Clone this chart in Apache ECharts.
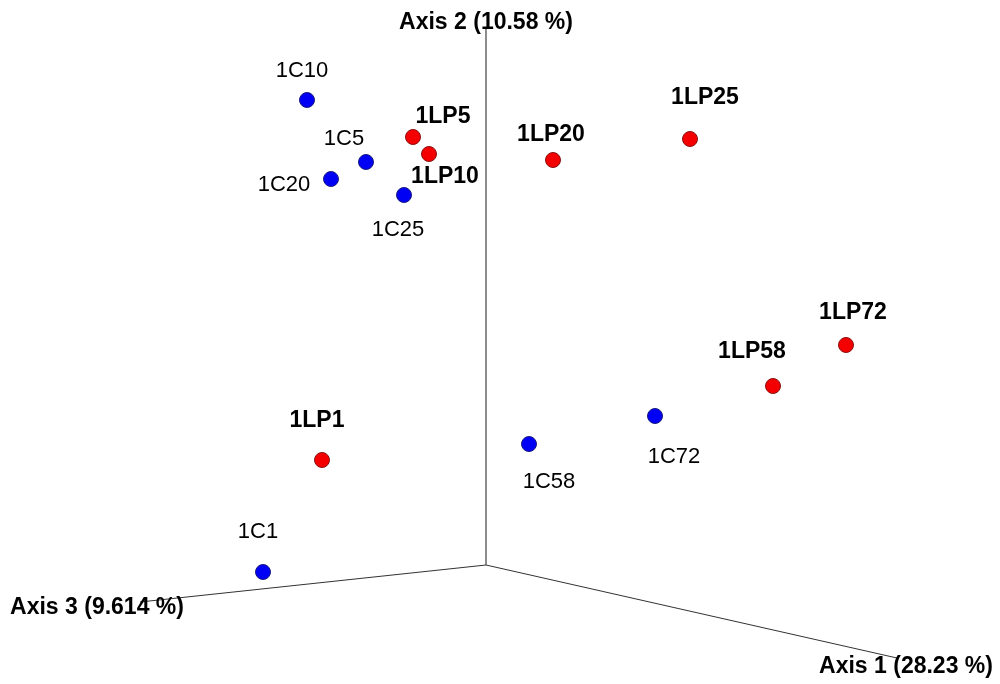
<!DOCTYPE html>
<html>
<head>
<meta charset="utf-8">
<script src="https://cdn.jsdelivr.net/npm/echarts@6/dist/echarts.min.js"></script>
<style>html,body{margin:0;padding:0;background:#fff}#c{width:1000px;height:684px}</style>
</head>
<body>
<div id="c"></div>
<script>
// Projected ordination coordinates (screen-plane units of the 3D view)
const controlNames = ['1C1', '1C5', '1C10', '1C20', '1C25', '1C58', '1C72'];
const controlX = [263, 366, 307, 331, 404, 529, 655];
const controlY = [572, 162, 100, 179, 195, 444, 416];

const lpNames = ['1LP1', '1LP5', '1LP10', '1LP20', '1LP25', '1LP58', '1LP72'];
const lpX = [322, 413, 429, 553, 690, 773, 846];
const lpY = [460, 137, 154, 160, 139, 386, 345];

// Projected 3D axes: origin and end of each axis
const axisNames = ['Axis 1 (28.23 %)', 'Axis 2 (10.58 %)', 'Axis 3 (9.614 %)'];
const axisOrigin = [486, 565];
const axisEndX = [897, 486, 140];
const axisEndY = [658, 27, 602];

// label placement (style)
const labelOffsets = {
  '1C1': [-5, -40], '1C5': [-22, -23], '1C10': [-5, -29], '1C20': [-47, 6],
  '1C25': [-6, 35], '1C58': [20, 38], '1C72': [19, 41],
  '1LP1': [-5, -39], '1LP5': [30, -20], '1LP10': [16, 23], '1LP20': [-2, -25],
  '1LP25': [15, -41], '1LP58': [-21, -34], '1LP72': [7, -32]
};
const axisLabelOffsets = [[9, 9], [0, -4], [-43, 6]];

const FONT = 'Liberation Sans, Arial, Helvetica, sans-serif';

function pointData(names, xs, ys) {
  return names.map((n, i) => ({
    name: n,
    value: [xs[i], ys[i]],
    label: { offset: labelOffsets[n] }
  }));
}

const axisSeries = axisNames.map((n, i) => ({
  type: 'line',
  name: n,
  z: 1,
  symbol: 'none',
  silent: true,
  animation: false,
  lineStyle: { color: i === 1 ? '#666' : '#333', width: i === 1 ? 1.5 : 1 },
  data: [axisOrigin.slice(), [axisEndX[i], axisEndY[i]]]
}));

const axisTitleSeries = {
  type: 'scatter',
  name: 'axisTitles',
  z: 2,
  symbolSize: 0,
  silent: true,
  animation: false,
  itemStyle: { opacity: 1 },
  label: {
    show: true,
    position: 'inside',
    formatter: p => p.name,
    color: '#000',
    fontFamily: FONT,
    fontWeight: 'bold',
    fontSize: 23,
    align: 'center',
    verticalAlign: 'middle'
  },
  data: axisNames.map((n, i) => ({
    name: n,
    value: [axisEndX[i], axisEndY[i]],
    label: { offset: axisLabelOffsets[i] }
  }))
};

function scatterSeries(name, names, xs, ys, color, border, bold) {
  return {
    type: 'scatter',
    name: name,
    z: 3,
    symbol: 'circle',
    symbolSize: 15,
    animation: false,
    itemStyle: { color: color, borderColor: border, borderWidth: 1, opacity: 1 },
    label: {
      show: true,
      position: 'inside',
      formatter: p => p.name,
      color: '#000',
      fontFamily: FONT,
      fontSize: bold ? 23 : 22,
      fontWeight: bold ? 'bold' : 'normal',
      align: 'center',
      verticalAlign: 'middle'
    },
    data: pointData(names, xs, ys)
  };
}

const chart = echarts.init(document.getElementById('c'), null, { renderer: 'canvas' });
chart.setOption({
  backgroundColor: '#fff',
  animation: false,
  grid: { left: 0, right: 0, top: 0, bottom: 0, containLabel: false },
  xAxis: { type: 'value', min: 0, max: 1000, show: false },
  yAxis: { type: 'value', min: 0, max: 684, inverse: true, show: false },
  series: [
    ...axisSeries,
    axisTitleSeries,
    scatterSeries('Control', controlNames, controlX, controlY, '#0000f5', '#1a1a80', false),
    scatterSeries('LP', lpNames, lpX, lpY, '#f50000', '#8a1010', true)
  ]
});
</script>
</body>
</html>
